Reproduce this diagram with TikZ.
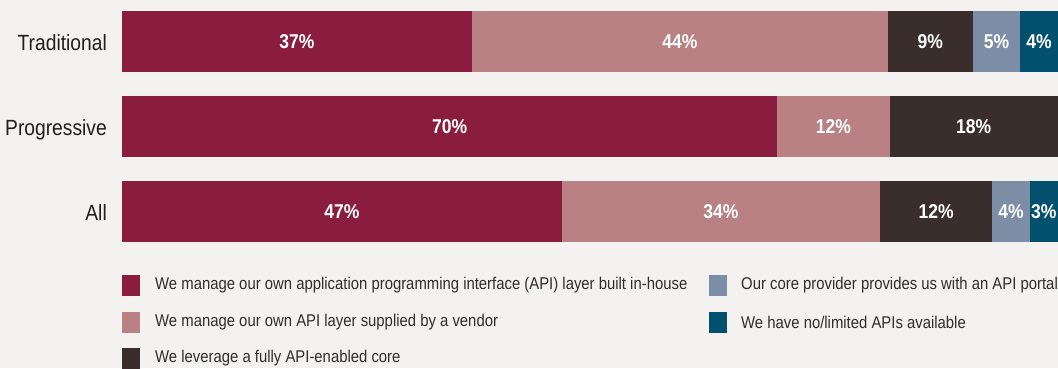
\documentclass[tikz,border=0pt]{standalone}
\usepackage{fontspec}
\setmainfont[FakeStretch=0.875]{Liberation Sans}
\usepackage{tikz}
\usetikzlibrary{positioning}

\definecolor{inhouse}{HTML}{8A1C40}
\definecolor{vendor}{HTML}{B98184}
\definecolor{fullcore}{HTML}{3A2E2C}
\definecolor{portal}{HTML}{7B8EA6}
\definecolor{noapi}{HTML}{00506E}
\definecolor{paper}{HTML}{F4F2F0}

\begin{document}
\begin{tikzpicture}[x=1pt,y=-1pt]
 \tikzstyle{seg}    = [rectangle,inner sep=0pt,outer sep=0pt,minimum height=61pt,
                       anchor=west,text=white,font=\fontsize{20}{22}\selectfont\bfseries];
 \tikzstyle{row}    = [anchor=base east,inner sep=0pt,font=\fontsize{22}{24}\selectfont,text=black!88];
 \tikzstyle{key}    = [rectangle,inner sep=0pt,outer sep=0pt,minimum width=18pt,minimum height=21pt,anchor=west];
 \tikzstyle{keytxt} = [anchor=west,inner sep=0pt,font=\fontsize{17}{18}\selectfont,text=black!82];

 \fill[paper] (0,0) rectangle (1058,368);
 \useasboundingbox (0,0) rectangle (1058,368);

 %% Traditional
 \node[row] (trad) at (107,50) {Traditional};
 \node[seg,fill=inhouse,minimum width=349.8pt] (t1) at (122,41.5) {37\%};
 \node[seg,fill=vendor,minimum width=416.0pt] (t2) at (t1.east) {44\%};
 \node[seg,fill=fullcore,minimum width=85.1pt] (t3) at (t2.east) {9\%};
 \node[seg,fill=portal,minimum width=47.3pt] (t4) at (t3.east) {5\%};
 \node[seg,fill=noapi,minimum width=37.8pt] (t5) at (t4.east) {4\%};

 %% Progressive
 \node[row] (prog) at (107,135) {Progressive};
 \node[seg,fill=inhouse,minimum width=655.2pt] (p1) at (122,126.5) {70\%};
 \node[seg,fill=vendor,minimum width=112.3pt] (p2) at (p1.east) {12\%};
 \node[seg,fill=fullcore,minimum width=168.5pt] (p3) at (p2.east) {18\%};

 %% All
 \node[row] (all) at (107,220) {All};
 \node[seg,fill=inhouse,minimum width=439.9pt] (a1) at (122,211.5) {47\%};
 \node[seg,fill=vendor,minimum width=318.2pt] (a2) at (a1.east) {34\%};
 \node[seg,fill=fullcore,minimum width=112.3pt] (a3) at (a2.east) {12\%};
 \node[seg,fill=portal,minimum width=37.4pt] (a4) at (a3.east) {4\%};
 \node[seg,fill=noapi,minimum width=28.1pt] (a5) at (a4.east) {3\%};

 %% legend
 \node[key,fill=inhouse] (k1) at (122,285.5) {};
 \node[keytxt,right=15pt of k1] (k1t) {We manage our own application programming interface (API) layer built in-house};
 \node[key,fill=vendor] (k2) at (122,322.5) {};
 \node[keytxt,right=15pt of k2] (k2t) {We manage our own API layer supplied by a vendor};
 \node[key,fill=fullcore] (k3) at (122,358.5) {};
 \node[keytxt,right=15pt of k3] (k3t) {We leverage a fully API-enabled core};
 \node[key,fill=portal] (k4) at (709,285.5) {};
 \node[keytxt,right=14pt of k4] (k4t) {Our core provider provides us with an API portal};
 \node[key,fill=noapi] (k5) at (709,322.5) {};
 \node[keytxt,right=14pt of k5] (k5t) {We have no/limited APIs available};

\end{tikzpicture}
\end{document}
